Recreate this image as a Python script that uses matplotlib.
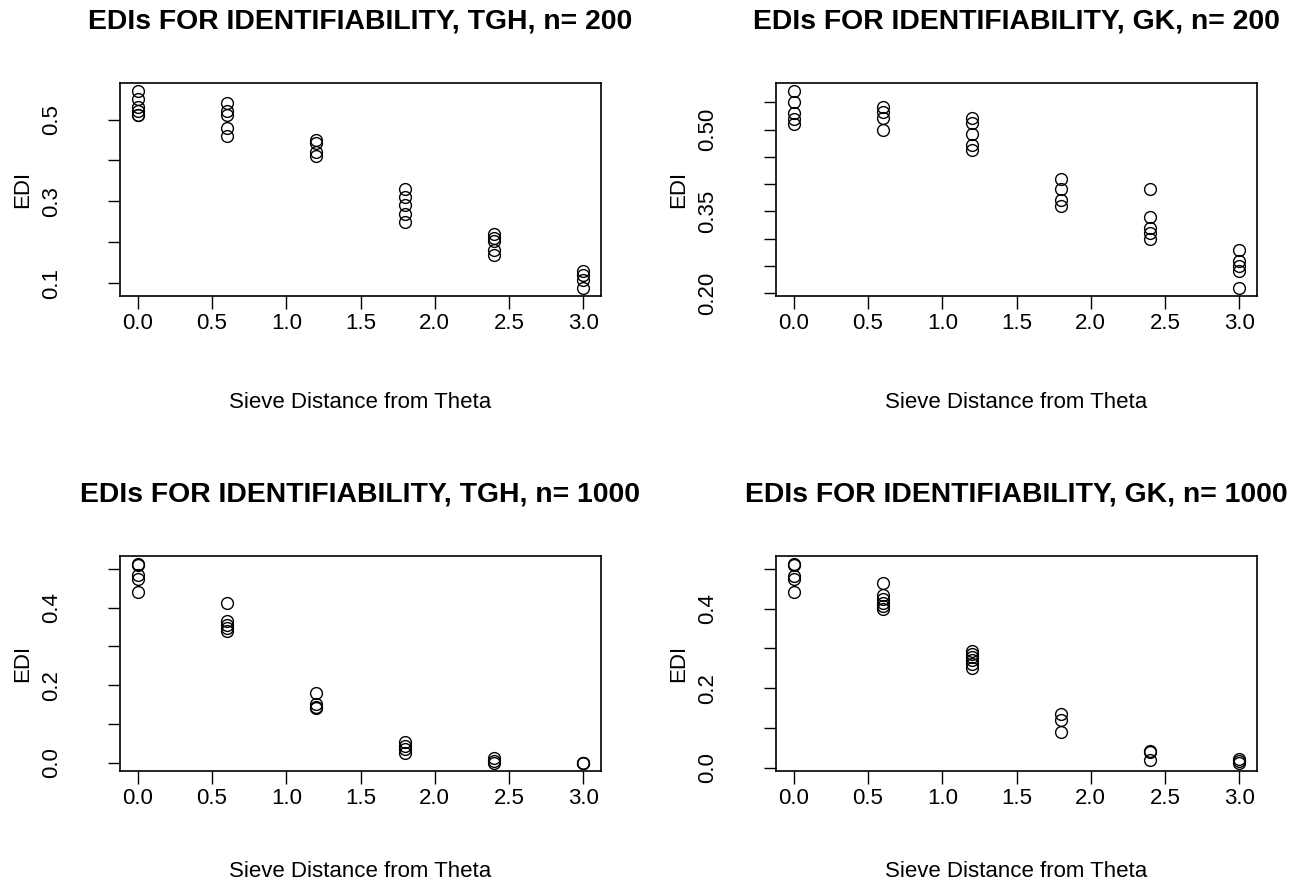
import matplotlib
matplotlib.use('Agg')
import matplotlib.pyplot as plt
import numpy as np

plt.rcParams['font.family'] = ['Liberation Sans', 'DejaVu Sans']

# ---- data ----
sieve_dist = [0.0, 0.6, 1.2, 1.8, 2.4, 3.0]

edi_tgh_200 = [
    [0.570, 0.550, 0.531, 0.522, 0.512, 0.510],
    [0.540, 0.522, 0.511, 0.480, 0.460],
    [0.449, 0.443, 0.421, 0.411],
    [0.331, 0.310, 0.290, 0.270, 0.249],
    [0.221, 0.211, 0.203, 0.181, 0.169],
    [0.131, 0.119, 0.109, 0.088],
]
edi_gk_200 = [
    [0.571, 0.550, 0.530, 0.519, 0.510],
    [0.542, 0.532, 0.521, 0.500],
    [0.521, 0.512, 0.491, 0.471, 0.462],
    [0.410, 0.391, 0.371, 0.360],
    [0.391, 0.340, 0.320, 0.310, 0.300],
    [0.279, 0.259, 0.249, 0.240, 0.209],
]
edi_tgh_1000 = [
    [0.512, 0.510, 0.483, 0.473, 0.441],
    [0.412, 0.365, 0.356, 0.348, 0.340],
    [0.180, 0.151, 0.145, 0.141],
    [0.053, 0.044, 0.035, 0.027],
    [0.013, 0.005, 0.000],
    [0.001, 0.000, 0.000],
]
edi_gk_1000 = [
    [0.512, 0.510, 0.483, 0.473, 0.441],
    [0.463, 0.434, 0.424, 0.415, 0.407, 0.398],
    [0.294, 0.286, 0.278, 0.270, 0.262, 0.251],
    [0.135, 0.121, 0.090],
    [0.041, 0.040, 0.020],
    [0.023, 0.016, 0.012],
]

titles = [
    "EDIs FOR IDENTIFIABILITY, TGH, n= 200",
    "EDIs FOR IDENTIFIABILITY, GK, n= 200",
    "EDIs FOR IDENTIFIABILITY, TGH, n= 1000",
    "EDIs FOR IDENTIFIABILITY, GK, n= 1000",
]
x_ticks = [0.0, 0.5, 1.0, 1.5, 2.0, 2.5, 3.0]
x_ticklabels = ["0.0", "0.5", "1.0", "1.5", "2.0", "2.5", "3.0"]
y_ticks = [
    [0.1, 0.2, 0.3, 0.4, 0.5],
    [0.20, 0.25, 0.30, 0.35, 0.40, 0.45, 0.50, 0.55],
    [0.0, 0.1, 0.2, 0.3, 0.4, 0.5],
    [0.0, 0.1, 0.2, 0.3, 0.4, 0.5],
]
y_ticklabels = [
    ["0.1", "", "0.3", "", "0.5"],
    ["0.20", "", "", "0.35", "", "", "0.50", ""],
    ["0.0", "", "0.2", "", "0.4", ""],
    ["0.0", "", "0.2", "", "0.4", ""],
]
xlabel = "Sieve Distance from Theta"
ylabel = "EDI"

datasets = [edi_tgh_200, edi_gk_200, edi_tgh_1000, edi_gk_1000]

W, H = 1293, 884
fig = plt.figure(figsize=(W / 100, H / 100), dpi=100)

# axes boxes in pixel coords: (left, top, right, bottom)
boxes = [
    (120, 83, 601, 296),
    (776, 83, 1257, 296),
    (120, 556, 601, 771),
    (776, 556, 1257, 771),
]
xlabel_pads = [42, 42, 38, 38]

FS = 16
for i, (data, box) in enumerate(zip(datasets, boxes)):
    l, t, r, b = box
    ax = fig.add_axes([l / W, 1 - b / H, (r - l) / W, (b - t) / H])
    xs = []
    ys = []
    for xv, grp in zip(sieve_dist, data):
        xs.extend([xv] * len(grp))
        ys.extend(grp)
    ax.plot(xs, ys, linestyle='none', marker='o', markersize=8.5,
            markerfacecolor='none', markeredgecolor='black', markeredgewidth=1.0)
    ax.margins(x=0.04, y=0.04)
    ax.set_xticks(x_ticks)
    ax.set_xticklabels(x_ticklabels)
    ax.set_yticks(y_ticks[i])
    ax.set_yticklabels(y_ticklabels[i], rotation=90, va='center')
    ax.tick_params(axis='both', length=9, width=1.0, labelsize=FS, color='black')
    ax.tick_params(axis='x', pad=3)
    ax.tick_params(axis='y', pad=33)
    for s in ax.spines.values():
        s.set_linewidth(1.2)
    ax.set_xlabel(xlabel, fontsize=FS, labelpad=xlabel_pads[i])
    ax.set_ylabel(ylabel, fontsize=FS, labelpad=5.5)
    ax.set_title(titles[i], fontsize=20.4, fontweight='bold', pad=39)

fig.savefig('out.png', dpi=100)
